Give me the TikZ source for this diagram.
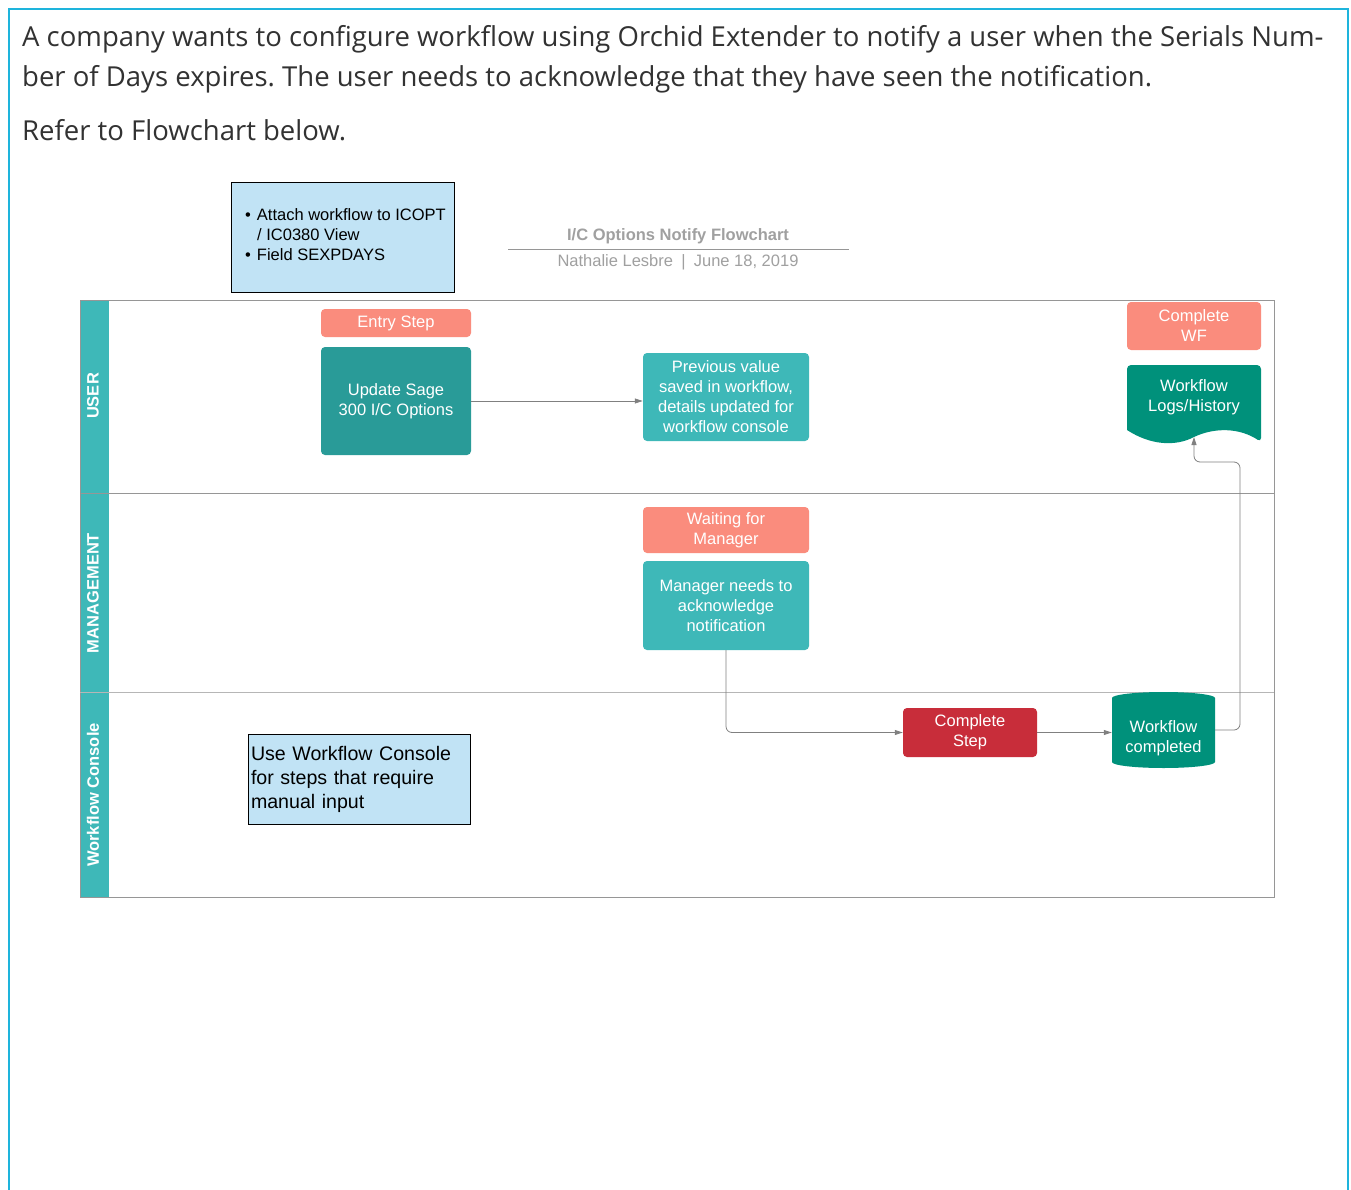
\documentclass[tikz,border=0pt]{standalone}
\usepackage{fontspec}
\setmainfont{Liberation Sans}
\newfontfamily\headfont{Open Sans}
\usepackage{tikz}
\usetikzlibrary{positioning,arrows.meta}
\frenchspacing

\definecolor{framecyan}{RGB}{30,180,220}
\definecolor{headtext}{RGB}{50,50,50}
\definecolor{laneteal}{RGB}{62,184,184}
\definecolor{darkteal}{RGB}{41,155,152}
\definecolor{salmon}{RGB}{250,140,125}
\definecolor{stepred}{RGB}{200,45,58}
\definecolor{wfgreen}{RGB}{0,145,123}
\definecolor{noteblue}{RGB}{193,227,245}
\definecolor{titlegray}{RGB}{160,160,160}
\definecolor{linegray}{RGB}{150,150,150}

\begin{document}
\begin{tikzpicture}[x=1pt, y=-1pt,
        tag/.style={rectangle, rounded corners=4pt, fill=salmon, text=white, inner sep=0pt, align=center, font=\fontsize{16.5}{20}\selectfont},
        task/.style={rectangle, rounded corners=4pt, fill=laneteal, text=white, inner sep=0pt, align=center, font=\fontsize{16.5}{20}\selectfont},
        note/.style={rectangle, draw=black, line width=1pt, fill=noteblue, inner sep=3pt, align=left},
        lanelabel/.style={rotate=90, text=white, font=\fontsize{16.5}{19}\selectfont\bfseries},
        flow/.style={-{Triangle[length=8pt,width=5pt]}, draw=gray, line width=0.8pt},
    ]
    \useasboundingbox (0,0) rectangle (1351,1190);
    \fill[white] (0,0) rectangle (1351,1190);
    \draw[framecyan, line width=2pt] (9,1192) -- (9,9) -- (1348,9) -- (1348,1192);

    % Question text
    \begin{scope}[headfont/.style={anchor=base west, inner sep=0pt, text=headtext, font=\headfont\fontsize{27.5}{32}\selectfont}]
        \node[headfont] (q1) at (22,47) {A company wants to configure workflow using Orchid Extender to notify a user when the Serials Num-};
        \node[headfont] (q2) at (22,87) {ber of Days expires. The user needs to acknowledge that they have seen the notification.};
        \node[headfont] (q3) at (22,141) {Refer to Flowchart below.};
    \end{scope}

    % Title block
    \node[note, minimum width=223pt, minimum height=109pt, inner xsep=0pt, font=\fontsize{16.5}{20}\selectfont] (view) at (342.5,237.5)
        {\hspace*{6pt}\textbullet\hspace{6pt}Attach workflow to ICOPT\\\hspace*{18pt}/ IC0380 View\\\hspace*{6pt}\textbullet\hspace{6pt}Field SEXPDAYS\\[-14pt]\mbox{}};
    \node[text=titlegray, font=\fontsize{16.5}{20}\selectfont\bfseries] (title) at (678,236) {I/C Options Notify Flowchart};
    \draw[linegray, line width=0.8pt] (508,249) -- (849,249);
    \node[text=titlegray, font=\fontsize{16.5}{20}\selectfont] (author) at (678,262) {Nathalie Lesbre\enspace|\enspace June 18, 2019};

    % Pool and lanes
    \fill[laneteal] (80,300) rectangle (109,897);
    \draw[linegray, line width=0.8pt] (80,300) rectangle (1274,897);
    \draw[linegray, line width=0.8pt] (80,493) -- (1274,493);
    \draw[linegray!70, line width=0.8pt] (80,692) -- (1274,692);
    \node[lanelabel] (luser) at (93,396) {USER};
    \node[lanelabel] (lmgmt) at (93,593) {MANAGEMENT};
    \node[lanelabel] (lcons) at (93,795) {Workflow Console};

    % User lane
    \node[tag, minimum width=150pt, minimum height=28pt] (entry) at (396,323) {Entry Step};
    \node[task, fill=darkteal, minimum width=150pt, minimum height=108pt] (update) at (396,401) {Update Sage\\300 I/C Options};
    \node[task, minimum width=166pt, minimum height=88pt] (prev) at (726,397) {Previous value\\saved in workflow,\\details updated for\\workflow console};
    \node[tag, minimum width=134pt, minimum height=48pt] (cwf) at (1194,326) {Complete\\WF};
    \fill[wfgreen, rounded corners=4pt] (1127,430) -- (1127,365) -- (1261,365) -- (1261,442) [sharp corners]
        .. controls (1240,428) and (1215,427) .. (1194,437) .. controls (1175,447) and (1150,445) .. (1127,430) -- cycle;
    \node[text=white, align=center, font=\fontsize{16.5}{20}\selectfont] (logs) at (1194,397) {Workflow\\Logs/History};
    \coordinate (logsin) at (1194,437);

    % Management lane
    \node[tag, minimum width=166pt, minimum height=46pt] (wait) at (726,530) {Waiting for\\Manager};
    \node[task, minimum width=166pt, minimum height=89pt] (mgr) at (726,605.5) {Manager needs to\\acknowledge\\notification};

    % Workflow Console lane
    \node[note, minimum width=222pt, minimum height=90pt, text width=216pt, font=\fontsize{19.6}{24}\selectfont] (console) at (359,779)
        {Use Workflow Console\\for steps that require\\manual input};
    \node[task, fill=stepred, minimum width=134pt, minimum height=49pt] (cstep) at (970,732.5) {Complete\\Step};
    \fill[wfgreen] (1112,698) arc[start angle=180, end angle=360, x radius=51.5, y radius=6] -- (1215,762)
        arc[start angle=0, end angle=180, x radius=51.5, y radius=6] -- cycle;
    \node[text=white, align=center, inner sep=0pt, minimum width=103pt, minimum height=70pt, font=\fontsize{16.5}{20}\selectfont] (wfc) at (1163.5,738) {Workflow\\completed};

    % Connectors
    \draw[flow] (update.east) -- (update.east -| prev.west);
    \draw[flow, rounded corners=6pt] (mgr.south) |- (cstep.west);
    \draw[flow] (cstep.east) -- (cstep.east -| wfc.west);
    \draw[flow, rounded corners=6pt] ([yshift=8pt]wfc.east) -| (1240,462) -| (logsin);
\end{tikzpicture}
\end{document}
